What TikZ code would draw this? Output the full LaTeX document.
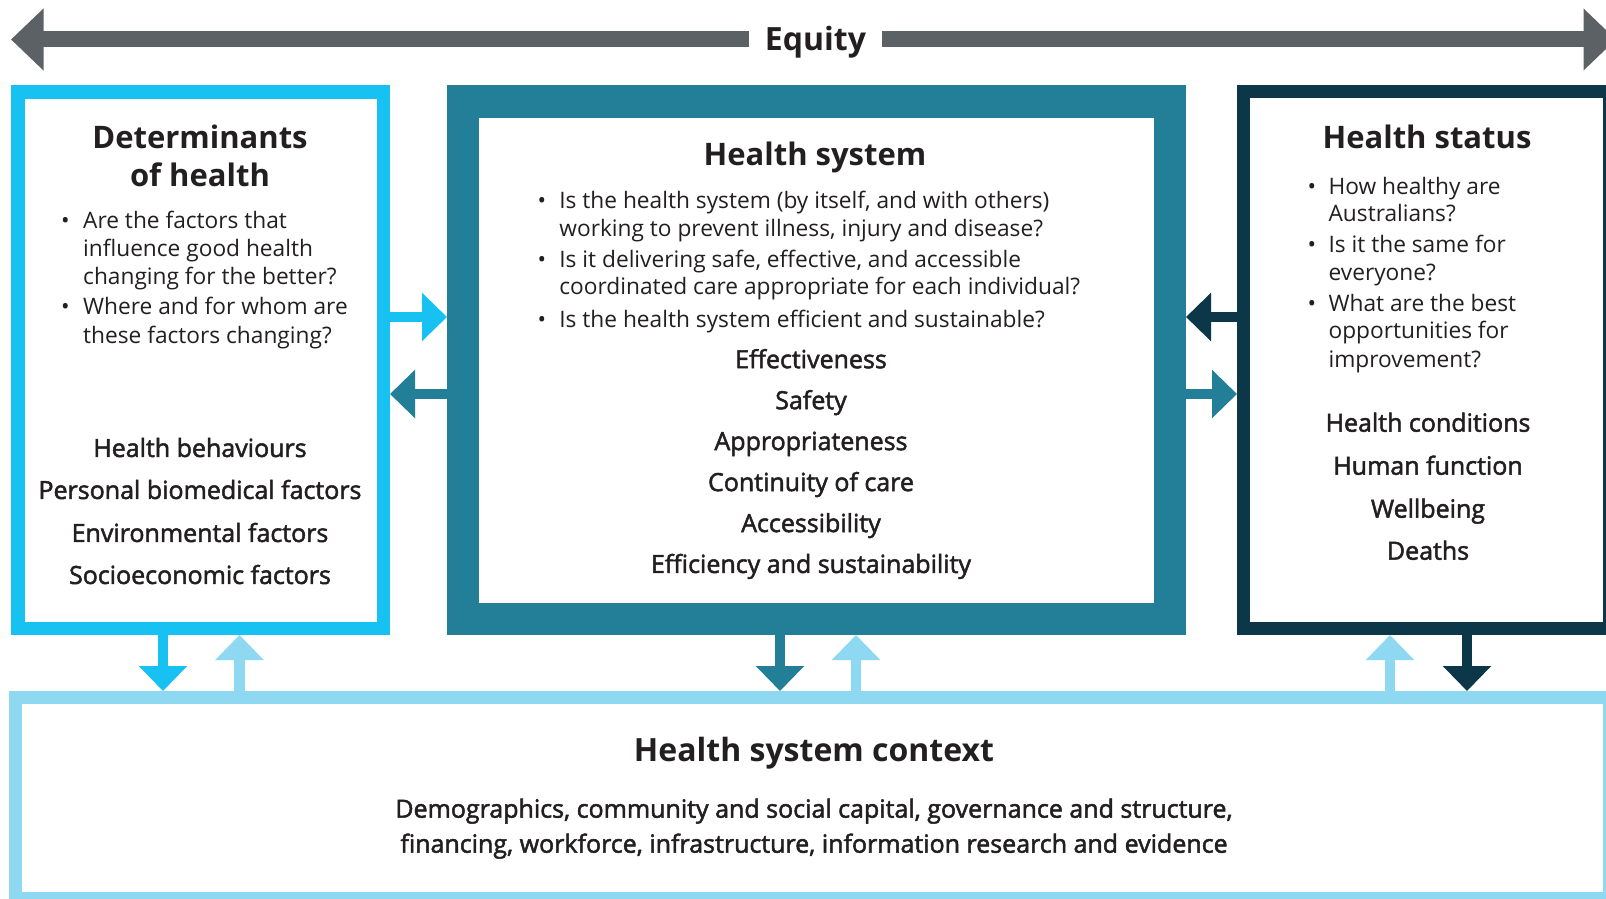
\documentclass[tikz,border=0pt]{standalone}
\usepackage{fontspec}
\setmainfont{Open Sans}
\newfontfamily\sbfont{Open Sans}[FakeBold=2]
\usepackage{graphicx}
\usetikzlibrary{arrows.meta}
\definecolor{cyanB}{HTML}{17C2F2}
\definecolor{tealB}{HTML}{237F98}
\definecolor{navyB}{HTML}{0B3749}
\definecolor{lightB}{HTML}{8ED8F1}
\definecolor{grayB}{HTML}{5C6165}
\definecolor{ink}{HTML}{231F20}
\tikzset{
 ttl/.style={font=\fontsize{31}{38}\selectfont\bfseries, text=ink, inner sep=0, anchor=mid},
 bl/.style={font=\fontsize{22.7}{27}\selectfont, text=ink, inner sep=0, anchor=mid west},
 bdot/.style={font=\fontsize{22.7}{27}\selectfont, text=ink, inner sep=0, anchor=mid},
 itm/.style={font=\sbfont\fontsize{25}{27}\selectfont, text=ink, inner sep=0, anchor=mid},
 ctxt/.style={font=\sbfont\fontsize{25}{27}\selectfont, text=ink, inner sep=0, anchor=mid},
 harr/.style={line width=10.5pt, -{Triangle[length=25pt,width=47pt]}},
 eqarr/.style={line width=16pt, grayB, {Triangle[length=32.5pt,width=60pt]}-{Triangle[length=32.5pt,width=60pt]}},
}
\begin{document}
\begin{tikzpicture}[x=1pt,y=-1pt]
\useasboundingbox (0,0) rectangle (1606,899);
\clip (0,0) rectangle (1606,899);
\fill[white] (0,0) rectangle (1606,899);
% Equity arrow
\coordinate (eqL) at (11,39.5);
\coordinate (eqR) at (1616,39.5);
\draw[eqarr] (eqL) -- (eqR);
\node[fill=white, inner xsep=16pt, inner ysep=2pt, font=\fontsize{32}{38}\selectfont\bfseries, text=ink] (eq) at (815.5,42.5) {Equity};
% boxes
\node[draw=cyanB, line width=13.5pt, minimum width=365.5pt, minimum height=536.5pt, inner sep=0, outer sep=6.75pt] (det) at (200.5,360) {};
\node[fill=tealB, minimum width=739pt, minimum height=550pt, inner sep=0, outer sep=0] (hs) at (816.5,360) {};
\node[fill=white, minimum width=675pt, minimum height=485pt, inner sep=0, outer sep=0] (hsin) at (816.5,360.5) {};
\node[draw=navyB, line width=13pt, minimum width=366pt, minimum height=537pt, inner sep=0, outer sep=6.5pt] (stat) at (1426.5,360) {};
\node[draw=lightB, line width=13pt, minimum width=1594pt, minimum height=201pt, inner sep=0, outer sep=6.5pt] (ctx) at (812.5,798) {};
% horizontal arrows
\draw[harr, cyanB] (det.east |- 0,317) -- (hs.west |- 0,317);
\draw[harr, tealB] (hs.west |- 0,394) -- (det.east |- 0,394);
\draw[harr, navyB] (stat.west |- 0,317) -- (hs.east |- 0,317);
\draw[harr, tealB] (hs.east |- 0,394) -- (stat.west |- 0,394);
% vertical arrows
\draw[harr, cyanB] (163,0 |- det.south) -- (163,0 |- ctx.north);
\draw[harr, lightB] (239.5,0 |- ctx.north) -- (239.5,0 |- det.south);
\draw[harr, tealB] (780,0 |- hs.south) -- (780,0 |- ctx.north);
\draw[harr, lightB] (856,0 |- ctx.north) -- (856,0 |- hs.south);
\draw[harr, lightB] (1390,0 |- ctx.north) -- (1390,0 |- stat.south);
\draw[harr, navyB] (1467,0 |- stat.south) -- (1467,0 |- ctx.north);
% Determinants text
\node[ttl] (dt1) at (200,145.4) {Determinants};
\node[ttl] (dt2) at (200,184.3) {of health};
\node[bdot] (db1) at (65.5,226.2) {•};
\node[bl] (dl1) at (83,226.2) {Are the factors that};
\node[bl] (dl2) at (83,253.9) {influence good health};
\node[bl] (dl3) at (83,281.5) {changing for the better?};
\node[bdot] (db2) at (65.5,312.2) {•};
\node[bl] (dl4) at (83,312.2) {Where and for whom are};
\node[bl] (dl5) at (83,340.9) {these factors changing?};
\node[itm] (di1) at (200,454.3) {Health behaviours};
\node[itm] (di2) at (200,496.3) {Personal biomedical factors};
\node[itm] (di3) at (200,539.3) {Environmental factors};
\node[itm] (di4) at (200,581.3) {Socioeconomic factors};
% Health system text
\node[ttl] (ht) at (815,162.8) {Health system};
\node[bdot] (hb1) at (541.8,205.7) {•};
\node[bl] (hl1) at (559.2,205.7) {Is the health system (by itself, and with others)};
\node[bl] (hl2) at (559.2,233.4) {working to prevent illness, injury and disease?};
\node[bdot] (hb2) at (541.8,265.1) {•};
\node[bl] (hl3) at (559.2,265.1) {Is it delivering safe, effective, and accessible};
\node[bl] (hl4) at (559.2,291.7) {coordinated care appropriate for each individual?};
\node[bdot] (hb3) at (541.8,324.5) {•};
\node[bl] (hl5) at (559.2,324.5) {Is the health system efficient and sustainable?};
\node[itm] (hi1) at (811,365.5) {Effectiveness};
\node[itm] (hi2) at (811,406.5) {Safety};
\node[itm] (hi3) at (811,447.4) {Appropriateness};
\node[itm] (hi4) at (811,488.4) {Continuity of care};
\node[itm] (hi5) at (811,529.4) {Accessibility};
\node[itm] (hi6) at (811,570.3) {Efficiency and sustainability};
% Health status text
\node[ttl] (st) at (1427,145.4) {Health status};
\node[bdot] (sb1) at (1312,191.4) {•};
\node[bl] (sl1) at (1328.4,191.4) {How healthy are};
\node[bl] (sl2) at (1328.4,219) {Australians?};
\node[bdot] (sb2) at (1312,249.8) {•};
\node[bl] (sl3) at (1328.4,249.8) {Is it the same for};
\node[bl] (sl4) at (1328.4,277.4) {everyone?};
\node[bdot] (sb3) at (1312,309.2) {•};
\node[bl] (sl5) at (1328.4,309.2) {What are the best};
\node[bl] (sl6) at (1328.4,335.8) {opportunities for};
\node[bl] (sl7) at (1328.4,364.5) {improvement?};
\node[itm] (si1) at (1428,429) {Health conditions};
\node[itm] (si2) at (1428,472) {Human function};
\node[itm] (si3) at (1428,515) {Wellbeing};
\node[itm] (si4) at (1428,557) {Deaths};
% Context text
\node[ttl, font=\fontsize{32}{38}\selectfont\bfseries] (ct) at (814,758.9) {Health system context};
\node[ctxt] (cl1) at (814,815) {Demographics, community and social capital, governance and structure,};
\node[ctxt] (cl2) at (814,850) {financing, workforce, infrastructure, information research and evidence};
\end{tikzpicture}
\end{document}
